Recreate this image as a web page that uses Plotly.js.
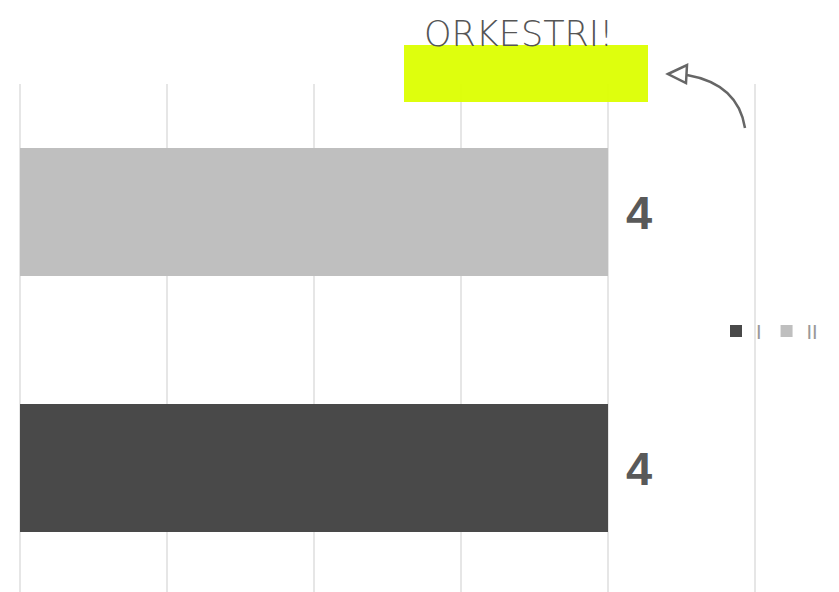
<!DOCTYPE html>
<html><head><meta charset="utf-8">
<script src="https://cdn.plot.ly/plotly-3.0.1.min.js"></script>
<style>html,body{margin:0;padding:0;background:#fff;overflow:hidden}#c{width:839px;height:592px}</style>
</head><body><div id="c"></div>
<script>
const categories = ["I", "II"];
const values = [4, 4];
const colors = ["#494949", "#bfbfbf"];
const titleText = "ORKESTRI!";

const traces = categories.map((c, i) => ({
  type: "bar", orientation: "h", name: c,
  x: [values[i]], y: [c], width: 0.5,
  marker: {color: colors[i]}, hoverinfo: "skip"
}));

const annotations = categories.map((c, i) => ({
  x: values[i], y: c, xref: "x", yref: "y", text: "<b>" + values[i] + "</b>",
  showarrow: false, xanchor: "left", yanchor: "middle", xshift: 16, yshift: 0,
  font: {family: "Liberation Sans", size: 47, color: "#595959"}
}));

// pixel -> paper helpers (plot area: x 20..839, y 84..592)
const px = v => (v - 20) / 819;
const py = v => (592 - v) / 508;

const shapes = [
  {type: "rect", xref: "paper", yref: "paper", layer: "above",
   x0: px(404), x1: px(648), y0: py(102), y1: py(45),
   fillcolor: "#dcff00", opacity: 0.95, line: {width: 0}},
  {type: "path", xref: "paper", yref: "paper", layer: "above",
   path: `M ${px(687)},${py(75)} Q ${px(738)},${py(84)} ${px(745)},${py(128)}`,
   line: {color: "#666666", width: 2.5}},
  {type: "path", xref: "paper", yref: "paper", layer: "above",
   path: `M ${px(668)},${py(74)} L ${px(687)},${py(65)} L ${px(686)},${py(83)} Z`,
   fillcolor: "rgba(255,255,255,0)", line: {color: "#666666", width: 2.5}}
];

const layout = {
  width: 839, height: 592,
  margin: {l: 20, r: 0, t: 84, b: 0, pad: 0},
  paper_bgcolor: "#ffffff", plot_bgcolor: "#ffffff",
  barmode: "overlay",
  title: {text: titleText, x: px(424), xanchor: "left", xref: "paper",
          y: 1 - 34 / 592, yref: "container", yanchor: "middle",
          font: {family: "DejaVu Sans", size: 35, color: "#555555", weight: 200}},
  xaxis: {range: [0, 819 / 147], dtick: 1, showgrid: true, gridcolor: "#e6e6e6", gridwidth: 2,
          zeroline: true, zerolinecolor: "#e6e6e6", zerolinewidth: 2, showticklabels: false, showline: false, fixedrange: true},
  yaxis: {type: "category", categoryarray: categories, range: [1.5 - 508 / 256, 1.5],
          showticklabels: false, showgrid: false, zeroline: false, showline: false, fixedrange: true},
  showlegend: true,
  legend: {orientation: "h", x: px(716), xanchor: "left", y: py(331), yanchor: "middle",
           font: {family: "Liberation Sans, Arial, sans-serif", size: 20, color: "#999999"},
           bgcolor: "rgba(0,0,0,0)", traceorder: "normal"},
  annotations: annotations,
  shapes: shapes
};

Plotly.newPlot("c", traces, layout, {displayModeBar: false, staticPlot: true});
</script></body></html>
